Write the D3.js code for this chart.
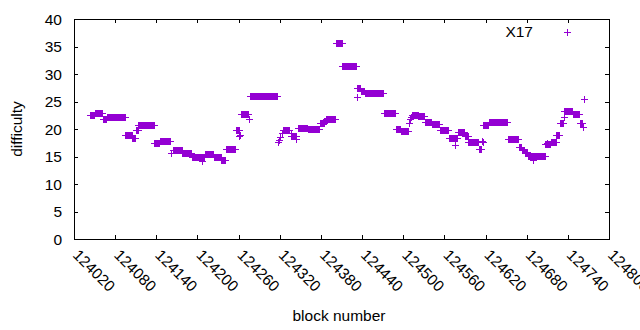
<!DOCTYPE html>
<html><head><meta charset="utf-8">
<script src="https://cdn.jsdelivr.net/npm/d3@7"></script>
<style>
html,body{margin:0;padding:0;background:#fff;}
svg{display:block;font-family:"Liberation Sans",Arial,sans-serif;}
</style></head>
<body>
<svg id="c" width="640" height="330"></svg>
<script>
// runs of constant difficulty (block ranges)
const runStart = [124043,124050,124062,124068,124095,124105,124110,124114,124137,124145,124161,124164,124178,124192,124211,124224,124235,124241,124256,124263,124276,124325,124337,124346,124361,124378,124385,124388,124402,124411,124433,124438,124444,124472,124489,124497,124513,124522,124532,124542,124553,124567,124580,124590,124595,124610,124617,124625,124653,124669,124673,124677,124682,124707,124715,124723,124728,124735,124747,124757];
const runEnd   = [124049,124061,124067,124094,124104,124109,124113,124136,124144,124160,124162,124177,124191,124210,124223,124234,124240,124255,124260,124274,124316,124334,124343,124360,124377,124384,124387,124401,124410,124431,124437,124443,124471,124488,124496,124507,124521,124531,124541,124552,124566,124579,124589,124594,124609,124614,124624,124652,124668,124672,124676,124681,124706,124714,124722,124727,124733,124746,124756,124761];
const runValue = [22.5,23.0,21.8,22.1,19.0,18.4,19.9,20.7,17.4,17.8,15.6,16.2,15.6,15.0,15.4,15.0,14.3,16.3,19.8,22.7,26.0,19.9,18.7,20.2,19.95,21.1,21.5,21.8,35.6,31.4,27.4,26.9,26.5,22.85,20.0,19.7,22.5,22.3,21.2,20.9,19.9,18.4,19.5,18.8,17.7,16.3,20.7,21.2,18.1,16.7,16.2,15.8,15.15,17.2,17.6,19.0,21.0,23.2,22.7,21.0];
// isolated blocks
const singleBlock = [124207,124261,124262,124275,124317,124319,124321,124323,124336,124344,124432,124508,124510,124512,124576,124615,124616,124689,124710,124734,124762,124763];
const singleValue = [14.1,18.8,19.0,21.8,17.6,18.0,18.5,19.2,19.3,18.2,25.9,21.0,21.8,22.2,17.1,17.9,17.7,14.4,17.4,22.2,20.4,25.4];

const xTicks = d3.range(124020, 124801, 60);
const yTicks = [0,5,10,15,20,25,30,35,40];
const seriesName = "X17";
const color = "#9400d3";

const points = [];
runStart.forEach((s,i)=>{ for(let b=s;b<=runEnd[i];b++) points.push({b, v:runValue[i]}); });
singleBlock.forEach((b,i)=>points.push({b, v:singleValue[i]}));

const L=74, R=609, T=19, B=239;
const x = d3.scaleLinear().domain([124020,124800]).range([L,R]);
const y = d3.scaleLinear().domain([0,40]).range([B,T]);
const svg = d3.select("#c");
const fs = "15.5px";

// points
const plus = "M-3,0.5H4M0.5,-3V4";
svg.append("g").selectAll("path").data(points).join("path")
  .attr("d", plus)
  .attr("transform", d=>`translate(${Math.round(x(d.b))},${Math.round(y(d.v))})`)
  .attr("stroke", color).attr("stroke-width",1).attr("fill","none")
  .attr("shape-rendering","crispEdges");

// axes (inward ticks, mirrored)
const tl = 4;
const g = svg.append("g").attr("shape-rendering","crispEdges").attr("stroke","#000").attr("stroke-width",1);
g.append("rect").attr("x",L+0.5).attr("y",T+0.5).attr("width",R-L).attr("height",B-T).attr("fill","none");
xTicks.forEach(t=>{
  const px = Math.round(x(t))+0.5;
  g.append("line").attr("x1",px).attr("x2",px).attr("y1",B).attr("y2",B-tl);
  g.append("line").attr("x1",px).attr("x2",px).attr("y1",T).attr("y2",T+tl);
});
yTicks.forEach(t=>{
  const py = Math.round(y(t))+0.5;
  g.append("line").attr("x1",L).attr("x2",L+tl).attr("y1",py).attr("y2",py);
  g.append("line").attr("x1",R).attr("x2",R-tl).attr("y1",py).attr("y2",py);
});

// tick labels
svg.append("g").selectAll("text").data(yTicks).join("text")
  .attr("x", 62).attr("y", d=>y(d)+5.5).attr("text-anchor","end")
  .attr("font-size",fs).attr("fill","#000").text(d=>d);
svg.append("g").selectAll("text").data(xTicks).join("text")
  .attr("transform", d=>`translate(${x(d)-2},${B+17}) rotate(45)`)
  .attr("text-anchor","start").attr("font-size",fs).attr("fill","#000").text(d=>d);

// axis titles
svg.append("text").attr("x",339).attr("y",321).attr("text-anchor","middle")
  .attr("font-size",fs).text("block number");
svg.append("text").attr("transform","translate(22,129) rotate(-90)").attr("text-anchor","middle")
  .attr("font-size",fs).text("difficulty");

// legend
svg.append("text").attr("x",533).attr("y",37).attr("text-anchor","end")
  .attr("font-size",fs).text(seriesName);
svg.append("path").attr("d",plus).attr("transform",`translate(${567},${32})`)
  .attr("stroke",color).attr("fill","none").attr("shape-rendering","crispEdges");
</script>
</body></html>
